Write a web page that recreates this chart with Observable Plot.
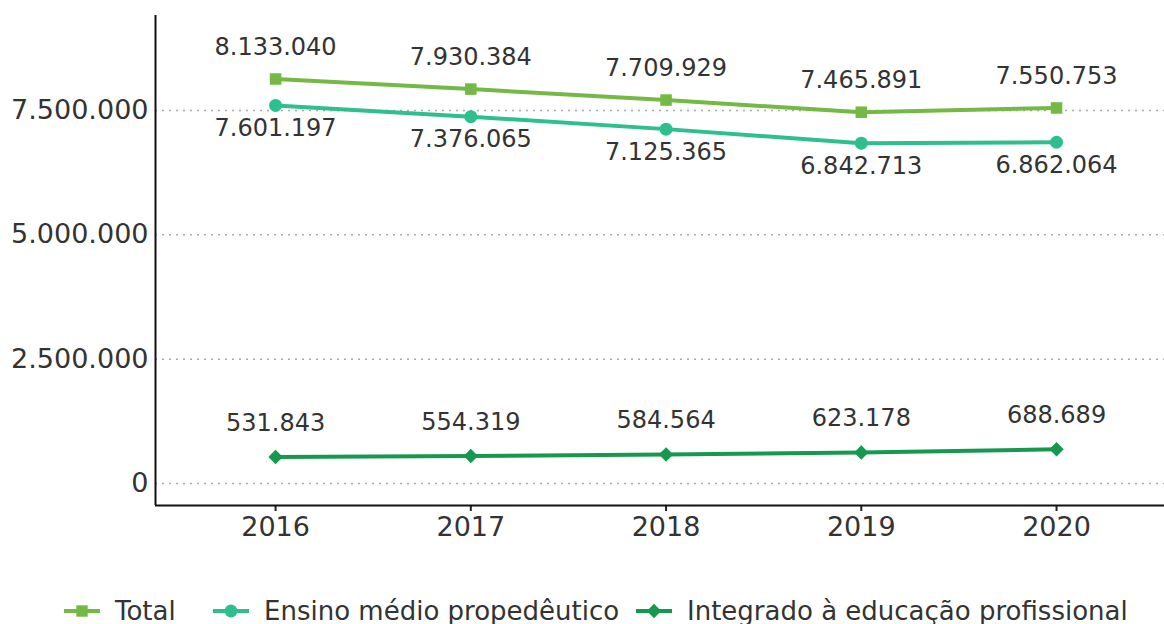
<!DOCTYPE html>
<html>
<head>
<meta charset="utf-8">
<script src="https://cdn.jsdelivr.net/npm/d3@7"></script>
<script src="https://cdn.jsdelivr.net/npm/@observablehq/plot@0.6"></script>
<style>
  html, body { margin: 0; padding: 0; background: #fff; }
  #wrap { position: relative; width: 1164px; height: 624px; font-family: "DejaVu Sans", sans-serif; }
  .leg { position: absolute; top: 596px; display: flex; align-items: center; font-size: 26px; color: #333; white-space: nowrap; }
  .leg svg { margin-right: 15px; }
</style>
</head>
<body>
<div id="wrap"></div>
<script>
const years = [2016, 2017, 2018, 2019, 2020];
const total = [8133040, 7930384, 7709929, 7465891, 7550753];
const ensino = [7601197, 7376065, 7125365, 6842713, 6862064];
const integrado = [531843, 554319, 584564, 623178, 688689];
const seriesNames = ["Total", "Ensino médio propedêutico", "Integrado à educação profissional"];
const seriesColors = ["#74b944", "#2ebf8e", "#16994f"];
const seriesSymbols = ["square", "circle", "diamond2"];
const yTicks = [0, 2500000, 5000000, 7500000];

const locale = d3.formatLocale({decimal: ",", thousands: ".", grouping: [3], currency: ["R$", ""]});
const fmt = locale.format(",d");

const seriesValues = [total, ensino, integrado];
const data = [];
seriesNames.forEach((name, i) => {
  years.forEach((yr, j) => data.push({series: name, year: yr, value: seriesValues[i][j]}));
});

const xDomain = [2015.385, 2020.553];
const yDomain = [-442000, 9410000];

const chart = Plot.plot({
  width: 1164,
  height: 560,
  marginLeft: 155,
  marginRight: 0,
  marginTop: 15,
  marginBottom: 55,
  style: {fontFamily: "DejaVu Sans, sans-serif", fontSize: "27px", color: "#333", background: "white"},
  x: {domain: xDomain},
  y: {domain: yDomain},
  color: {domain: seriesNames, range: seriesColors},
  symbol: {domain: seriesNames, range: seriesSymbols},
  marks: [
    Plot.ruleY(yTicks, {stroke: "#aaa", strokeWidth: 1.5, strokeDasharray: "2,5"}),
    Plot.axisY(yTicks, {tickSize: 0, tickPadding: 7, tickFormat: fmt, label: null, fill: "#333"}),
    Plot.axisX(years, {tickSize: 6, tickPadding: 5, tickFormat: d => String(d), label: null, stroke: "#222", strokeWidth: 2, fill: "#333"}),
    Plot.ruleX([xDomain[0]], {stroke: "#111", strokeWidth: 2}),
    Plot.ruleY([yDomain[0]], {stroke: "#111", strokeWidth: 2}),
    Plot.line(data, {x: "year", y: "value", z: "series", stroke: "series", strokeWidth: 4}),
    Plot.dot(data, {x: "year", y: "value", fill: "series", symbol: "series", r: 6.5}),
    Plot.text(data.filter(d => d.series === seriesNames[0]), {x: "year", y: "value", text: d => fmt(d.value), dy: -32, fontSize: 24, fill: "#333"}),
    Plot.text(data.filter(d => d.series === seriesNames[1]), {x: "year", y: "value", text: d => fmt(d.value), dy: 23, fontSize: 24, fill: "#333"}),
    Plot.text(data.filter(d => d.series === seriesNames[2]), {x: "year", y: "value", text: d => fmt(d.value), dy: -34, fontSize: 24, fill: "#333"})
  ]
});

const wrap = document.getElementById("wrap");
wrap.appendChild(chart);

const legendLeft = [64, 213, 636];
seriesNames.forEach((name, i) => {
  const item = document.createElement("div");
  item.className = "leg";
  item.style.left = legendLeft[i] + "px";
  const sym = d3.create("svg").attr("width", 36).attr("height", 24);
  sym.append("line").attr("x1", 0).attr("x2", 36).attr("y1", 12).attr("y2", 12)
    .attr("stroke", seriesColors[i]).attr("stroke-width", 4);
  const symType = [d3.symbolSquare, d3.symbolCircle, d3.symbolDiamond2][i];
  sym.append("path").attr("d", d3.symbol(symType, 130)()).attr("transform", "translate(18,12)")
    .attr("fill", seriesColors[i]);
  item.appendChild(sym.node());
  const span = document.createElement("span");
  span.textContent = name;
  item.appendChild(span);
  wrap.appendChild(item);
});
</script>
</body>
</html>
